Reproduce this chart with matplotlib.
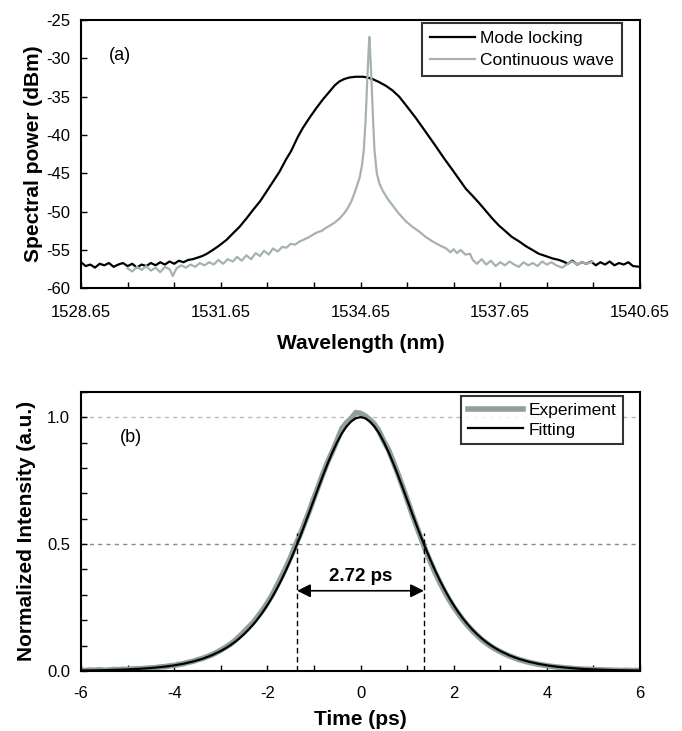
import matplotlib
matplotlib.use("Agg")
import matplotlib.pyplot as plt
import numpy as np

plt.rcParams['font.family'] = ['Liberation Sans', 'DejaVu Sans']
plt.rcParams['axes.unicode_minus'] = False

# (a) spectra, wavelength in nm, power in dBm
ml_wl = [1528.65, 1528.75, 1528.85, 1528.95, 1529.05, 1529.15, 1529.25, 1529.35, 1529.45, 1529.55,
         1529.65, 1529.75, 1529.85, 1529.95, 1530.05, 1530.15, 1530.25, 1530.35, 1530.45, 1530.55,
         1530.65, 1530.75, 1530.85, 1530.95, 1531.05, 1531.15, 1531.25, 1531.35, 1531.48, 1531.6,
         1531.77, 1531.9, 1532.05, 1532.2, 1532.34, 1532.5, 1532.63, 1532.77, 1532.91, 1533.05,
         1533.16, 1533.3, 1533.41, 1533.55, 1533.7, 1533.85, 1533.99, 1534.1, 1534.2, 1534.3,
         1534.41, 1534.55, 1534.7, 1534.8, 1534.91, 1535.05, 1535.2, 1535.34, 1535.48, 1535.65,
         1535.84, 1536.05, 1536.27, 1536.45, 1536.63, 1536.77, 1536.91, 1537.05, 1537.2, 1537.34,
         1537.48, 1537.62, 1537.77, 1537.9, 1538.06, 1538.2, 1538.34, 1538.48, 1538.63, 1538.77,
         1538.91, 1539.0, 1539.1, 1539.2, 1539.3, 1539.4, 1539.5, 1539.6, 1539.7, 1539.8,
         1539.9, 1540.0, 1540.1, 1540.2, 1540.3, 1540.4, 1540.5, 1540.65]
ml_db = [-56.6, -57.1, -56.9, -57.3, -56.8, -57.0, -56.7, -57.2, -56.9, -56.7,
         -57.1, -56.8, -57.3, -56.9, -57.1, -56.7, -57.0, -56.6, -56.9, -56.5,
         -56.8, -56.4, -56.6, -56.3, -56.2, -56.0, -55.8, -55.5, -55.0, -54.5,
         -53.7, -52.9, -52.0, -50.9, -49.8, -48.6, -47.4, -46.1, -44.8, -43.2,
         -42.1, -40.3, -39.1, -37.8, -36.5, -35.3, -34.3, -33.5, -33.0, -32.7,
         -32.5, -32.4, -32.4, -32.5, -32.7, -33.1, -33.6, -34.2, -35.0, -36.3,
         -37.8, -39.6, -41.5, -43.1, -44.6, -45.8, -47.0, -47.9, -48.9, -49.9,
         -50.9, -51.8, -52.6, -53.3, -53.9, -54.5, -55.0, -55.5, -55.8, -56.1,
         -56.3, -56.5, -56.8, -56.4, -56.9, -56.6, -56.8, -56.5, -57.0, -56.6,
         -56.9, -56.5, -57.0, -56.7, -56.9, -56.6, -57.1, -57.2]

cw_wl = [1529.65, 1529.75, 1529.85, 1529.95, 1530.05, 1530.15, 1530.25, 1530.35, 1530.45, 1530.55,
         1530.62, 1530.7, 1530.8, 1530.9, 1531.0, 1531.1, 1531.2, 1531.3, 1531.4, 1531.5,
         1531.6, 1531.7, 1531.8, 1531.91, 1532.0, 1532.1, 1532.2, 1532.3, 1532.4, 1532.49,
         1532.58, 1532.68, 1532.77, 1532.87, 1532.97, 1533.06, 1533.15, 1533.25, 1533.34, 1533.45,
         1533.55, 1533.63, 1533.72, 1533.82, 1533.91, 1534.0, 1534.1, 1534.2, 1534.3, 1534.38,
         1534.45, 1534.52, 1534.58, 1534.63, 1534.68, 1534.72, 1534.76, 1534.79, 1534.82, 1534.84,
         1534.86, 1534.89, 1534.92, 1534.95, 1535.0, 1535.06, 1535.13, 1535.23, 1535.34, 1535.48,
         1535.63, 1535.77, 1535.91, 1536.05, 1536.2, 1536.35, 1536.49, 1536.58, 1536.65, 1536.72,
         1536.8, 1536.9, 1537.0, 1537.06, 1537.15, 1537.25, 1537.35, 1537.45, 1537.55, 1537.65,
         1537.75, 1537.85, 1537.95, 1538.05, 1538.15, 1538.25, 1538.35, 1538.45, 1538.55, 1538.65,
         1538.75, 1538.85, 1538.98, 1539.1, 1539.2, 1539.3, 1539.4, 1539.5, 1539.63]
cw_db = [-57.4, -57.8, -57.2, -57.6, -57.1, -57.7, -57.3, -57.9, -57.2, -57.5,
         -58.4, -57.4, -57.0, -57.3, -56.9, -57.2, -56.7, -57.0, -56.6, -56.9,
         -56.3, -56.8, -56.2, -56.5, -55.9, -56.4, -55.7, -56.2, -55.4, -55.8,
         -55.1, -55.6, -54.8, -55.2, -54.6, -54.7, -54.2, -54.3, -53.9, -53.6,
         -53.3, -53.0, -52.7, -52.5, -52.1, -51.8, -51.4, -50.9, -50.2, -49.5,
         -48.7, -47.6, -46.5, -45.6, -44.0, -42.0, -38.0, -33.5, -29.5, -27.2,
         -29.5, -33.5, -38.0, -42.0, -45.0, -46.4, -47.3, -48.3, -49.2, -50.3,
         -51.3, -52.0, -52.6, -53.3, -53.9, -54.4, -54.8, -55.3, -54.9, -55.4,
         -55.0, -55.6, -55.5, -56.3, -56.8, -56.2, -56.9, -56.4, -57.1, -56.6,
         -57.0, -56.5, -56.9, -57.2, -56.6, -57.0, -56.7, -57.1, -56.5, -56.9,
         -56.6, -57.0, -57.3, -56.8, -56.5, -56.9, -56.6, -56.8, -56.5]

# (b) autocorrelation, time in ps
exp_t = [round(-6 + 0.1 * i, 1) for i in range(121)]
exp_val = [0.003, 0.002, 0.004, 0.003, 0.005, 0.003, 0.004, 0.006, 0.005, 0.007,
           0.006, 0.008, 0.009, 0.009, 0.011, 0.012, 0.013, 0.016, 0.017, 0.020,
           0.022, 0.026, 0.029, 0.034, 0.038, 0.044, 0.049, 0.056, 0.063, 0.072,
           0.082, 0.093, 0.105, 0.119, 0.136, 0.154, 0.173, 0.192, 0.216, 0.240,
           0.268, 0.298, 0.334, 0.370, 0.408, 0.448, 0.494, 0.535, 0.583, 0.630,
           0.681, 0.730, 0.780, 0.826, 0.866, 0.910, 0.955, 0.978, 0.995, 1.018,
           1.015, 1.005, 0.990, 0.972, 0.944, 0.905, 0.872, 0.826, 0.778, 0.728,
           0.676, 0.622, 0.572, 0.522, 0.474, 0.430, 0.388, 0.350, 0.314, 0.282,
           0.252, 0.226, 0.201, 0.179, 0.159, 0.141, 0.124, 0.110, 0.097, 0.086,
           0.076, 0.067, 0.059, 0.052, 0.045, 0.040, 0.035, 0.031, 0.027, 0.024,
           0.021, 0.018, 0.016, 0.014, 0.012, 0.011, 0.009, 0.008, 0.007, 0.007,
           0.005, 0.005, 0.004, 0.004, 0.003, 0.003, 0.002, 0.003, 0.002, 0.002,
           0.002]

fit_t = [-6.0, -5.8, -5.6, -5.4, -5.2, -5.0, -4.8, -4.6, -4.4, -4.2, -4.0, -3.8, -3.6, -3.4, -3.2,
         -3.0, -2.9, -2.8, -2.7, -2.6, -2.5, -2.4, -2.3, -2.2, -2.1, -2.0, -1.9, -1.8, -1.7, -1.6,
         -1.5, -1.4, -1.3, -1.2, -1.1, -1.0, -0.9, -0.8, -0.7, -0.6, -0.5, -0.4, -0.3, -0.2, -0.1,
         0.0, 0.1, 0.2, 0.3, 0.4, 0.5, 0.6, 0.7, 0.8, 0.9, 1.0, 1.1, 1.2, 1.3, 1.4,
         1.5, 1.6, 1.7, 1.8, 1.9, 2.0, 2.1, 2.2, 2.3, 2.4, 2.5, 2.6, 2.7, 2.8, 2.9,
         3.0, 3.2, 3.4, 3.6, 3.8, 4.0, 4.2, 4.4, 4.6, 4.8, 5.0, 5.2, 5.4, 5.6, 5.8, 6.0]
fit_val = [0.0017, 0.0022, 0.0028, 0.0036, 0.0047, 0.0061, 0.0079, 0.0103, 0.0133, 0.0172,
           0.0222, 0.0287, 0.0370, 0.0476, 0.0613,
           0.0787, 0.0891, 0.1007, 0.1139, 0.1286, 0.1451, 0.1635, 0.1839, 0.2065, 0.2316,
           0.2592, 0.2895, 0.3225, 0.3582, 0.3969, 0.4379, 0.4819, 0.5280, 0.5758, 0.6248,
           0.6747, 0.7245, 0.7730, 0.8195, 0.8630, 0.9019, 0.9360, 0.9631, 0.9830, 0.9958,
           1.0,
           0.9958, 0.9830, 0.9631, 0.9360, 0.9019, 0.8630, 0.8195, 0.7730, 0.7245, 0.6747,
           0.6248, 0.5758, 0.5280, 0.4819, 0.4379, 0.3969, 0.3582, 0.3225, 0.2895, 0.2592,
           0.2316, 0.2065, 0.1839, 0.1635, 0.1451, 0.1286, 0.1139, 0.1007, 0.0891, 0.0787,
           0.0613, 0.0476, 0.0370, 0.0287, 0.0222, 0.0172, 0.0133, 0.0103, 0.0079, 0.0061,
           0.0047, 0.0036, 0.0028, 0.0022, 0.0017]

fwhm_left = -1.36
fwhm_right = 1.36
fwhm_label = "2.72 ps"

fig = plt.figure(figsize=(6.82, 7.31), dpi=100)
ax1 = fig.add_axes([0.1188, 0.6056, 0.8196, 0.367])
ax2 = fig.add_axes([0.1188, 0.0821, 0.8196, 0.382])

ax1.plot(ml_wl, ml_db, color='black', lw=1.6, label='Mode locking')
ax1.plot(cw_wl, cw_db, color='#a6b2b0', lw=1.6, label='Continuous wave')
ax1.set_xlim(1528.65, 1540.65)
ax1.set_ylim(-60, -25)
ax1.set_xticks(np.arange(1528.65, 1540.66, 3))
ax1.set_xticklabels(['1528.65', '1531.65', '1534.65', '1537.65', '1540.65'])
ax1.set_xticks(np.arange(1528.65, 1540.66, 1), minor=True)
ax1.set_yticks(np.arange(-60, -24, 5))
ax1.set_xlabel('Wavelength (nm)', fontsize=15, fontweight='bold', labelpad=10)
ax1.set_ylabel('Spectral power (dBm)', fontsize=15, fontweight='bold', labelpad=2)
ax1.text(0.05, 0.85, '(a)', transform=ax1.transAxes, fontsize=13)
leg1 = ax1.legend(loc='upper right', bbox_to_anchor=(0.968, 0.988), fontsize=12.5,
                  frameon=True, fancybox=False, handlelength=2.6, handletextpad=0.3,
                  borderpad=0.45, labelspacing=0.4, borderaxespad=0)
leg1.get_frame().set_edgecolor('black')
leg1.get_frame().set_linewidth(1.5)

ax2.plot(exp_t, exp_val, color='#8f9f9d', lw=4, label='Experiment')
ax2.plot(fit_t, fit_val, color='black', lw=1.6, label='Fitting')
ax2.axhline(0.5, color='#888888', lw=1, ls=(0, (3, 3)), zorder=0)
ax2.axhline(1.0, color='#bbbbbb', lw=1, ls=(0, (3, 3)), zorder=0)
ax2.vlines([fwhm_left, fwhm_right], 0, 0.545, colors='black', lw=1, linestyles=(0, (4, 2.5)))
ax2.annotate('', xy=(fwhm_left, 0.316), xytext=(fwhm_right, 0.316),
             arrowprops=dict(arrowstyle='<|-|>', color='black', lw=1.2, mutation_scale=20,
                             shrinkA=0, shrinkB=0))
ax2.text(0, 0.34, fwhm_label, ha='center', va='bottom', fontsize=13.5, fontweight='bold')
ax2.set_xlim(-6, 6)
ax2.set_ylim(0, 1.1)
ax2.set_xticks(np.arange(-6, 7, 2))
ax2.set_xticks(np.arange(-6, 7, 1), minor=True)
ax2.set_yticks([0.0, 0.5, 1.0])
ax2.set_yticklabels(['0.0', '0.5', '1.0'])
ax2.set_yticks(np.arange(0, 1.11, 0.1), minor=True)
ax2.set_xlabel('Time (ps)', fontsize=15, fontweight='bold', labelpad=6)
ax2.set_ylabel('Normalized Intensity (a.u.)', fontsize=15, fontweight='bold', labelpad=8)
ax2.text(0.07, 0.82, '(b)', transform=ax2.transAxes, fontsize=13)
leg2 = ax2.legend(loc='upper right', bbox_to_anchor=(0.97, 0.985), fontsize=12.5,
                  frameon=True, fancybox=False, handlelength=3.2, handletextpad=0.3,
                  borderpad=0.4, labelspacing=0.25, borderaxespad=0)
leg2.get_frame().set_edgecolor('black')
leg2.get_frame().set_linewidth(1.5)

for ax in (ax1, ax2):
    for s in ax.spines.values():
        s.set_linewidth(1.5)
    ax.tick_params(which='both', direction='in', labelsize=12, length=4, width=1, pad=8)
ax1.tick_params(axis='x', which='both', pad=12)
ax2.tick_params(axis='x', which='both', pad=11)

fig.savefig('out.png', dpi=100)
